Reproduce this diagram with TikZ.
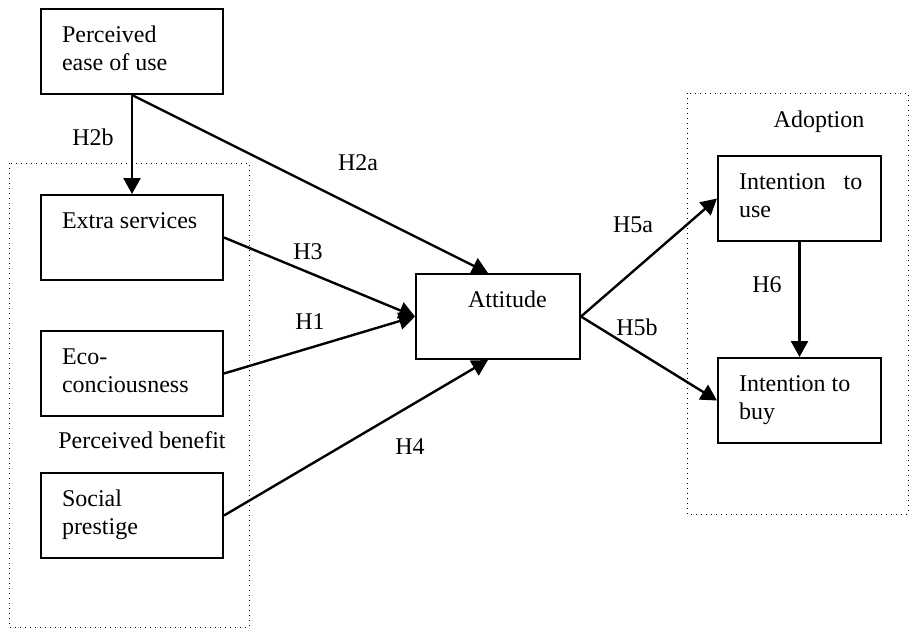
\documentclass[tikz,border=0pt]{standalone}
\usepackage{fontspec}
\setmainfont{Liberation Serif}
\usetikzlibrary{arrows.meta}
% text of a construct box: top aligned, fixed height
\newcommand{\boxtext}[2][70pt]{\parbox[t][42.5pt][t]{#1}{\rule{0pt}{16.5pt}#2}}

\begin{document}
\begin{tikzpicture}[x=0.5pt,y=-0.5pt,
		font=\fontsize{12}{14}\selectfont,
		construct/.style={draw,line width=1pt,anchor=north west,inner xsep=10.5pt,inner ysep=0pt},
		group/.style={dotted,line width=0.5pt},
		hyp/.style={-{Triangle[length=8pt,width=8.5pt]},line width=1.2pt},
		hlabel/.style={inner sep=0pt}]
	\useasboundingbox (0,0) rectangle (909,628);
	% groups
	\draw[group] (9,163) rectangle (249,627);
	\draw[group] (687,93) rectangle (908,514);
	\node[anchor=base] (benefit) at (142,448) {Perceived benefit};
	\node[anchor=base] (adoption) at (819,127) {Adoption};
	% constructs
	\node[construct] (ease) at (40,8) {\boxtext{Perceived\\ease of use}};
	\node[construct] (extra) at (40,194) {\boxtext{Extra services}};
	\node[construct] (eco) at (40,330) {\boxtext{Eco-\\conciousness}};
	\node[construct] (social) at (40,472) {\boxtext{Social\\prestige}};
	\node[construct] (att) at (415,273) {\boxtext[61pt]{\hspace*{15.5pt}Attitude}};
	\node[construct] (use) at (717,155) {\boxtext[60.5pt]{\mbox{Intention\hspace{6pt} to}\\use}};
	\node[construct] (buy) at (717,357) {\boxtext[60.5pt]{Intention to\\buy}};
	% hypotheses
	\draw[hyp] (ease.south) -- (extra.north);
	\draw[hyp] (ease.south) -- ([xshift=-5pt]att.north);
	\draw[hyp] (extra.east) -- (att.west);
	\draw[hyp] (eco.east) -- (att.west);
	\draw[hyp] (social.east) -- ([xshift=-5pt]att.south);
	\draw[hyp] (att.east) -- (use.west);
	\draw[hyp] (att.east) -- (buy.west);
	\draw[hyp] (use.south) -- (buy.north);
	\node[hlabel] (h2b) at (93,137) {H2b};
	\node[hlabel] (h2a) at (358,163) {H2a};
	\node[hlabel] (h3) at (308,252) {H3};
	\node[hlabel] (h1) at (310,322) {H1};
	\node[hlabel] (h4) at (410,447) {H4};
	\node[hlabel] (h5a) at (633,225) {H5a};
	\node[hlabel] (h5b) at (637,327) {H5b};
	\node[hlabel] (h6) at (767,285) {H6};
\end{tikzpicture}
\end{document}
